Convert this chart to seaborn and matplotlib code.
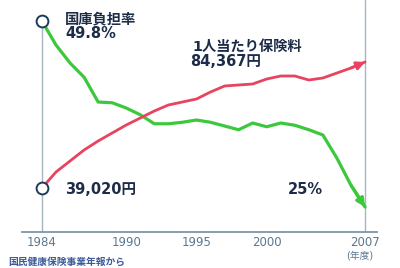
import matplotlib
matplotlib.use("Agg")
import matplotlib.pyplot as plt
import numpy as np
import pandas as pd
import seaborn as sns

# 国民健康保険: 国庫負担率 (%) と 1人当たり保険料 (円), 1984-2007年度
years = list(range(1984, 2008))
burden_rate = [49.8, 46.6, 44.2, 42.3, 39.0, 38.9, 38.2, 37.3, 36.1, 36.1,
               36.3, 36.6, 36.3, 35.8, 35.3, 36.2, 35.7, 36.2, 35.9, 35.3,
               34.6, 31.5, 27.9, 25.0]
premium = [39020, 44778, 48737, 52696, 55935, 58815, 61694, 64213, 66732, 68892,
           69971, 71051, 73570, 75730, 76090, 76450, 78249, 79329, 79329, 77890,
           78610, 80409, 82208, 84367]
xticks = [1984, 1990, 1995, 2000, 2007]

df = pd.DataFrame({"year": years, "burden": burden_rate, "premium": premium})

GREEN = "#3cc83c"
RED = "#e8435f"
NAVY = "#1d2c48"
AXIS = "#7d96a8"

sns.set_style("white")
plt.rcParams["font.family"] = ["DejaVu Sans", "Noto Sans CJK JP"]

fig = plt.figure(figsize=(4, 2.68), dpi=100)
ax = fig.add_axes([22 / 400, 36 / 268, 355 / 400, 232 / 268])
ax2 = ax.twinx()

sns.lineplot(data=df, x="year", y="burden", ax=ax, color=GREEN, lw=2.3, zorder=3,
             solid_joinstyle="round", solid_capstyle="round")
sns.lineplot(data=df, x="year", y="premium", ax=ax2, color=RED, lw=2.0, zorder=3,
             solid_joinstyle="round", solid_capstyle="round")

ax.set_xlim(1982.58, 2007.85)
ax.set_ylim(21.67, 52.6)
ax2.set_ylim(23184, 106681)

# vertical guides at start / end
ax.axvline(years[0], ymin=0, ymax=(232 - 25) / 232, color="#a8b6c0", lw=1, zorder=1)
ax.axvline(years[-1], color="#a8b6c0", lw=1, zorder=1)

# start circles
ax.plot(years[0], burden_rate[0], "o", ms=8.5, mfc="white", mec="#1d3a5a", mew=1.4, zorder=5)
ax2.plot(years[0], premium[0], "o", ms=8.5, mfc="white", mec="#1d3a5a", mew=1.4, zorder=5)

# end arrows
ax.annotate("", xy=(years[-1], burden_rate[-1]), xytext=(years[-2], burden_rate[-2]),
            arrowprops=dict(arrowstyle="-|>", color=GREEN, lw=2.3,
                            mutation_scale=12, shrinkA=0, shrinkB=0), zorder=4)
ax2.annotate("", xy=(years[-1], premium[-1]), xytext=(years[-2], premium[-2]),
             arrowprops=dict(arrowstyle="-|>", color=RED, lw=2.0,
                             mutation_scale=12, shrinkA=0, shrinkB=0), zorder=4)

for a in (ax, ax2):
    for s in a.spines.values():
        s.set_visible(False)
    a.set_ylabel("")
    a.set_xlabel("")
    a.set_yticks([])
ax.spines["bottom"].set_visible(True)
ax.spines["bottom"].set_color(AXIS)
ax.spines["bottom"].set_linewidth(1.3)

ax.set_xticks(xticks)
ax.set_xticklabels([str(t) for t in xticks])
ax.tick_params(axis="x", direction="in", length=4, width=1, color=AXIS,
               labelsize=8.5, labelcolor="#5a7890", pad=3)
ax2.tick_params(axis="x", length=0)

def label(x, y, s, size=10.5, color=NAVY, ha="left"):
    fig.text(x / 400, 1 - y / 268, s, fontsize=size, color=color, fontweight="bold",
             ha=ha, va="center")

label(65, 19, "国庫負担率", size=10.3)
label(65, 33, f"{burden_rate[0]}%")
label(192, 47, "1人当たり保険料", size=10.3)
label(190, 62, f"{premium[-1]:,}円")
label(65, 189, f"{premium[0]:,}円")
label(288, 189, f"{burden_rate[-1]:.0f}%")

fig.text(360 / 400, 1 - 256 / 268, "(年度)", fontsize=7, color="#5a7890",
         ha="center", va="center")
fig.text(8 / 400, 1 - 262 / 268, "国民健康保険事業年報から", fontsize=7,
         color="#3a5a9a", ha="left", va="center", fontweight="bold")

fig.savefig("out.png", dpi=100)
